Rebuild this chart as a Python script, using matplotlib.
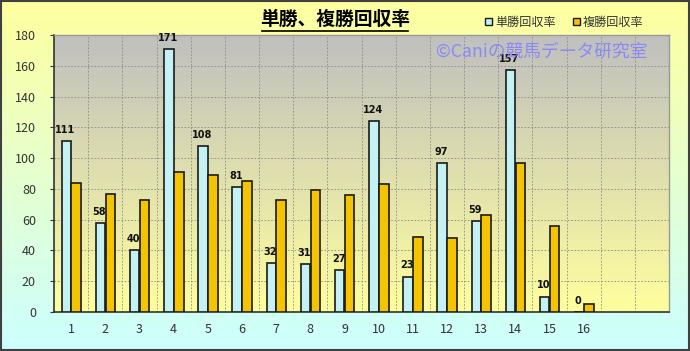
import numpy as np
import matplotlib.pyplot as plt
from matplotlib.patches import Patch
from matplotlib.lines import Line2D

plt.rcParams['font.family'] = ['Noto Sans CJK JP', 'DejaVu Sans']

# data
categories = list(range(1, 19))
tick_labels = [str(i) for i in range(1, 17)] + ['', '']
tansho = [111, 58, 40, 171, 108, 81, 32, 31, 27, 124, 23, 97, 59, 157, 10, 0]
fukusho = [84, 77, 73, 91, 89, 85, 73, 79, 76, 83, 49, 48, 63, 97, 56, 5]
series_names = ['単勝回収率', '複勝回収率']

fig = plt.figure(figsize=(6.9, 3.51), dpi=100)

# figure background gradient (yellow -> cyan)
bg = fig.add_axes([0, 0, 1, 1], zorder=-10)
top = np.array([1.0, 1.0, 0.62])
bot = np.array([0.80, 1.0, 1.0])
t = np.linspace(0, 1, 256)[:, None]
grad = top * (1 - t) + bot * t
bg.imshow(grad[:, None, :], aspect='auto', extent=[0, 1, 0, 1])
bg.set_axis_off()
bg.add_patch(plt.Rectangle((0.002, 0.004), 0.996, 0.992, fill=False,
                           edgecolor='#404040', lw=1.5, transform=bg.transAxes))

ax = fig.add_axes([0.0783, 0.1111, 0.8913, 0.7892])
ax.set_xlim(0.5, 18.5)
ax.set_ylim(0, 180)

# plot area gradient (gray -> light yellow)
ptop = np.array([0.75, 0.75, 0.75])
pbot = np.array([1.0, 1.0, 0.62])
pgrad = ptop * (1 - t) + pbot * t
ax.imshow(pgrad[:, None, :], aspect='auto', extent=[0.5, 18.5, 0, 180], zorder=0)

x = np.arange(1, len(tansho) + 1)
w = 0.28
ax.bar(x - 0.14, tansho, width=w, color='#C4F2F4', edgecolor='#1a1a1a', lw=1.2, zorder=3)
ax.bar(x + 0.15, fukusho, width=w, color='#F5C400', edgecolor='#1a1a1a', lw=1.2, zorder=3)

for xi, v in zip(x, tansho):
    ax.text(xi - 0.17, v + 4, str(v), ha='center', va='bottom', fontsize=7,
            fontweight='bold', color='#111111', family='DejaVu Sans', zorder=4)

# grid
for gx in np.arange(1.5, 18.5, 1):
    ax.axvline(gx, color='#8a8a8a', ls=(0, (2, 2)), lw=0.6, zorder=1)
for gy in range(20, 180, 20):
    ax.axhline(gy, color='#8a8a8a', ls=(0, (2, 2)), lw=0.6, zorder=1)

ax.set_xticks(categories)
ax.set_xticklabels(tick_labels)
ax.set_yticks(range(0, 181, 20))
ax.tick_params(axis='both', labelsize=9, colors='#333333', length=0, pad=8)
ax.tick_params(axis='y', length=3, pad=10)
for s in ['left', 'bottom']:
    ax.spines[s].set_color('#333333')
    ax.spines[s].set_linewidth(1.2)
for s in ['top', 'right']:
    ax.spines[s].set_color('#999999')
    ax.spines[s].set_linewidth(1.0)

# title with underline
fig.text(0.486, 0.945, '単勝、複勝回収率', ha='center', va='center', fontsize=13.5,
         fontweight='bold', color='#000000')
fig.add_artist(Line2D([0.380, 0.592], [0.912, 0.912], color='#000000', lw=1.2,
                      transform=fig.transFigure))

# watermark
fig.text(0.632, 0.852, '©Caniの競馬データ研究室', ha='left', va='center', fontsize=12.8,
         color='#8080FF', alpha=0.85, zorder=10)

handles = [Patch(facecolor='#C4F2F4', edgecolor='#1a1a1a', lw=1),
           Patch(facecolor='#F5C400', edgecolor='#1a1a1a', lw=1)]
fig.legend(handles, series_names, loc='center', bbox_to_anchor=(0.818, 0.937), ncol=2,
           frameon=False, fontsize=8.7, handlelength=0.6, handleheight=0.6,
           handletextpad=0.25, columnspacing=1.4, labelcolor='#333333')

fig.savefig('out.png', dpi=100)
